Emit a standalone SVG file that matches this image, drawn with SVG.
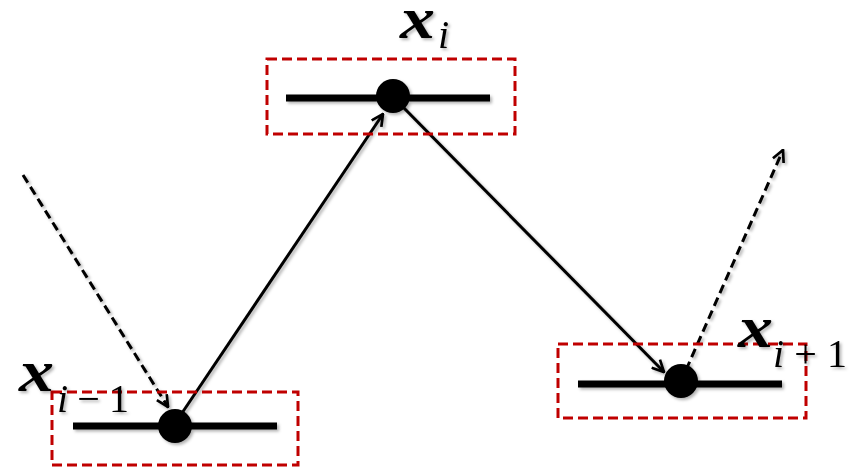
<svg xmlns="http://www.w3.org/2000/svg" width="849" height="471" viewBox="0 0 849 471">
  <style>
    .box { fill: none; stroke: #c00000; stroke-width: 3; stroke-dasharray: 10 5; }
    .bar { stroke: #000; stroke-width: 7; }
    .dot { fill: #000; }
    .edge { fill: none; stroke: #000; stroke-width: 3; }
    .dash { stroke-dasharray: 9 5; }
    .var { font-family: "Liberation Serif", "Times New Roman", serif; font-style: italic; font-weight: bold; font-size: 60px; fill: #000; }
    .sub { font-family: "Liberation Serif", "Times New Roman", serif; font-style: normal; font-weight: normal; font-size: 40px; fill: #000; }
    .it { font-style: italic; }
  </style>
  <defs>
    <filter id="shadow" x="-20%" y="-20%" width="140%" height="140%">
      <feDropShadow dx="2" dy="2" stdDeviation="1.5" flood-color="#000" flood-opacity="0.3"/>
    </filter>
    <marker id="arrow" viewBox="0 0 12 12" refX="11" refY="6" markerWidth="14" markerHeight="14" markerUnits="userSpaceOnUse" orient="auto">
      <path d="M1,1 L11,6 L1,11" fill="none" stroke="#000" stroke-width="2.3" stroke-linejoin="miter"/>
    </marker>
  </defs>

  <g id="connectors" filter="url(#shadow)">
    <line class="edge dash" x1="23" y1="175" x2="168" y2="407" marker-end="url(#arrow)"/>
    <line class="edge" x1="180" y1="416" x2="383" y2="114" marker-end="url(#arrow)"/>
    <line class="edge" x1="400" y1="104" x2="664" y2="372" marker-end="url(#arrow)"/>
    <line class="edge dash" x1="686" y1="370" x2="783" y2="150" marker-end="url(#arrow)"/>
  </g>

  <g id="node-prev">
    <rect class="box" x="52" y="392" width="246" height="73"/>
    <g filter="url(#shadow)">
      <line class="bar" x1="73" y1="426" x2="277" y2="426"/>
      <circle class="dot" cx="175" cy="426" r="17"/>
      <text x="19" y="391" class="var" textLength="35" lengthAdjust="spacingAndGlyphs">x</text>
      <text x="57" y="412" class="sub" textLength="72" lengthAdjust="spacing"><tspan class="it">i</tspan>−1</text>
    </g>
  </g>

  <g id="node-cur">
    <rect class="box" x="267" y="59" width="248" height="75"/>
    <g filter="url(#shadow)">
      <line class="bar" x1="286" y1="98" x2="490" y2="98"/>
      <circle class="dot" cx="393" cy="96" r="17"/>
      <text x="400" y="38" class="var" textLength="35" lengthAdjust="spacingAndGlyphs">x</text>
      <text x="438" y="48" class="sub it">i</text>
    </g>
  </g>

  <g id="node-next">
    <rect class="box" x="558" y="344" width="248" height="74"/>
    <g filter="url(#shadow)">
      <line class="bar" x1="578" y1="384" x2="782" y2="384"/>
      <circle class="dot" cx="681" cy="381" r="17"/>
      <text x="738" y="347" class="var" textLength="35" lengthAdjust="spacingAndGlyphs">x</text>
      <text x="773" y="367" class="sub" textLength="74" lengthAdjust="spacing"><tspan class="it">i</tspan>+1</text>
    </g>
  </g>
</svg>
